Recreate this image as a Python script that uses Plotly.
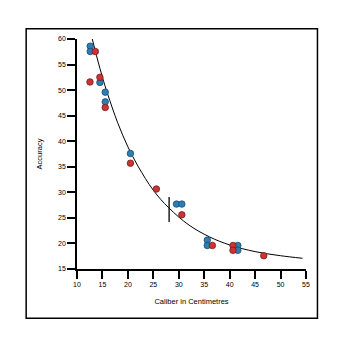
import plotly.graph_objects as go

# Measured samples (caliber in cm, accuracy)
blue_x = [12.6, 12.6, 14.5, 15.55, 15.55, 20.5, 29.55, 30.6, 35.6, 35.6, 41.6, 41.6]
blue_y = [58.6, 57.55, 51.5, 49.6, 47.7, 37.6, 27.7, 27.7, 20.65, 19.6, 19.6, 18.65]

red_x = [13.6, 14.5, 12.55, 15.55, 20.5, 25.6, 30.6, 36.6, 40.65, 40.65, 46.7]
red_y = [57.55, 52.5, 51.6, 46.6, 35.7, 30.65, 25.6, 19.6, 19.6, 18.65, 17.6]

# Fitted trend curve
curve_x = [13, 14, 15, 16, 18, 20, 22, 25, 28, 32, 36, 40, 45, 50, 54.3]
curve_y = [60.0, 56.1, 52.5, 49.3, 43.6, 38.9, 35.1, 30.4, 27.0, 23.6, 21.3, 19.7, 18.4, 17.6, 17.1]

# Vertical range marker
bar_x = [28.1, 28.1]
bar_y = [24.2, 29.1]

x_ticks = [10, 15, 20, 25, 30, 35, 40, 45, 50, 55]
y_ticks = [15, 20, 25, 30, 35, 40, 45, 50, 55, 60]

font_family = "Liberation Sans, Arial, sans-serif"

fig = go.Figure()
fig.add_trace(go.Scatter(x=curve_x, y=curve_y, mode="lines", line=dict(color="black", width=1, shape="spline"),
                         showlegend=False, hoverinfo="skip"))
fig.add_trace(go.Scatter(x=bar_x, y=bar_y, mode="lines", line=dict(color="black", width=1.3),
                         showlegend=False, hoverinfo="skip"))
fig.add_trace(go.Scatter(x=blue_x, y=blue_y, mode="markers",
                         marker=dict(size=6.5, color="#2b7fb5", line=dict(color="#1a4a70", width=0.8)),
                         showlegend=False))
fig.add_trace(go.Scatter(x=red_x, y=red_y, mode="markers",
                         marker=dict(size=6.5, color="#c93434", line=dict(color="#7a1c1c", width=0.8)),
                         showlegend=False))

axis_common = dict(showgrid=False, zeroline=False, showline=True, linecolor="black", linewidth=1.5,
                   ticks="outside", ticklen=8, tickwidth=1.5, tickcolor="black",
                   tickfont=dict(family=font_family, size=7, color="black"))

fig.update_xaxes(range=[10, 55], tickvals=x_ticks, ticktext=[str(v) for v in x_ticks],
                 title=dict(text="Caliber in Centimetres", font=dict(family=font_family, size=7.5, color="black"),
                            standoff=12),
                 **axis_common)
fig.update_yaxes(range=[15, 60], tickvals=y_ticks, ticktext=[str(v) for v in y_ticks],
                 title=dict(text="Accuracy", font=dict(family=font_family, size=7.5, color="black"),
                            standoff=14),
                 **axis_common)

# Outer frame around the whole chart
fig.add_shape(type="rect", xref="paper", yref="paper", x0=-0.222, x1=1.050, y0=-0.214, y1=1.045,
              line=dict(color="black", width=1.5), fillcolor="rgba(0,0,0,0)")

fig.update_layout(width=350, height=350, margin=dict(l=77, r=43.5, t=38.5, b=80.5),
                  paper_bgcolor="white", plot_bgcolor="white")

fig.write_html("out.html")
